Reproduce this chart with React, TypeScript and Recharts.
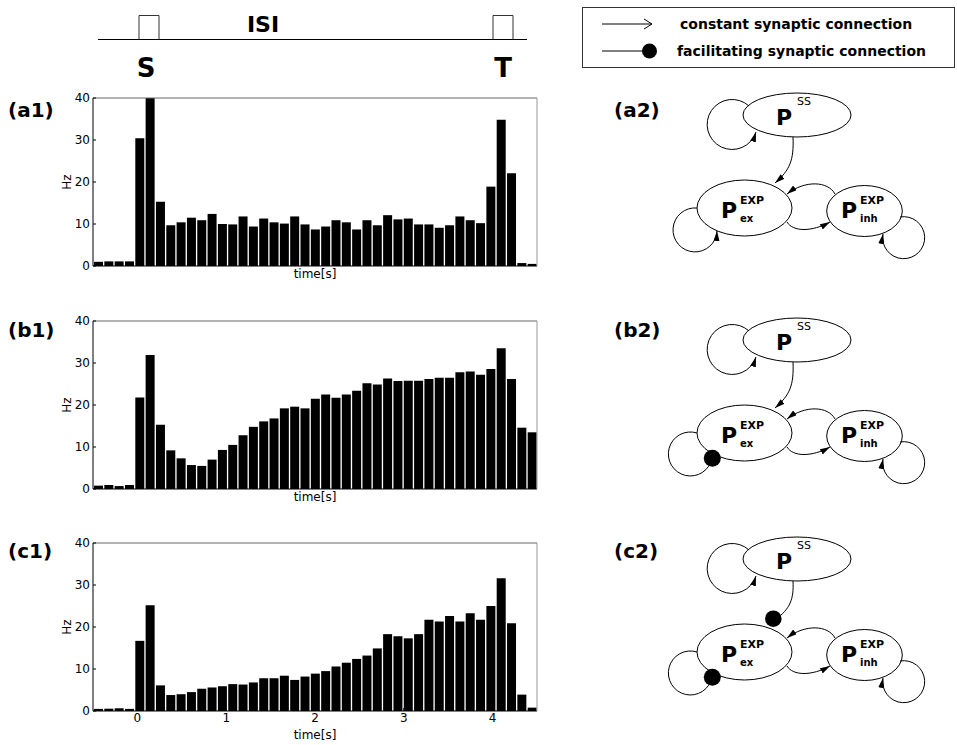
import * as React from 'react';
import { Bar, ComposedChart, Line, XAxis, YAxis } from 'recharts';

const FONT = '"DejaVu Sans", Verdana, sans-serif';

// histogram bins: 43 bins spanning -0.5 .. 4.5 s
const T_START = -0.5;
const T_END = 4.5;
const BIN_COUNT = 43;
const BIN_WIDTH = (T_END - T_START) / BIN_COUNT;

// firing rates (Hz) per bin
const rateA = [
	1.0, 1.1, 1.1, 1.1, 30.4, 40, 15.3, 9.7, 10.4, 11.5, 10.9, 12.4, 10.0, 9.9, 11.8,
	9.4, 11.3, 10.4, 10.1, 11.8, 9.9, 8.7, 9.4, 10.9, 10.4, 8.7, 10.9, 9.7, 12.1, 11.1,
	11.3, 9.9, 9.9, 9.1, 9.7, 11.8, 10.9, 10.2, 18.9, 34.8, 22.1, 0.7, 0.5,
];
const rateB = [
	0.8, 0.95, 0.7, 0.95, 21.8, 31.9, 15.3, 9.2, 7.3, 5.7, 5.5, 7.0, 9.3, 10.5, 12.8,
	14.8, 16.1, 16.8, 19.2, 19.6, 19.2, 21.5, 22.5, 21.7, 22.5, 23.4, 25.2, 24.9, 26.3, 25.7,
	25.8, 25.8, 26.2, 26.5, 26.5, 27.8, 28.0, 27.2, 28.6, 33.5, 26.2, 14.6, 13.5,
];
const rateC = [
	0.5, 0.55, 0.65, 0.5, 16.7, 25.2, 6.1, 3.8, 4.0, 4.5, 5.3, 5.6, 5.9, 6.4, 6.3,
	6.8, 7.8, 7.8, 8.4, 7.4, 8.2, 8.9, 9.5, 10.6, 11.5, 12.4, 13.2, 14.9, 18.3, 17.8,
	17.3, 18.3, 21.7, 21.3, 22.6, 21.3, 23.3, 21.7, 25.0, 31.6, 20.9, 3.9, 0.8,
];

const yTicks = [0, 10, 20, 30, 40];
const rightTicks = [10, 20, 30];
const halfSecondTicks = [0, 0.5, 1, 1.5, 2, 2.5, 3, 3.5, 4];
const secondTicks = [0, 1, 2, 3, 4];

function toRows(rates: number[]) {
	return rates.map((rate, i) => ({ t: T_START + (i + 0.5) * BIN_WIDTH, rate }));
}

type ChartProps = {
	rates: number[];
	top: number;
	ticks: number[];
	labelled: boolean;
};

function RateChart({ rates, top, ticks, labelled }: ChartProps) {
	const tickText = { fill: '#000', fontSize: 12, fontFamily: FONT };
	return (
		<div style={{ position: 'absolute', left: 0, top, width: 560, height: 210 }}>
			<ComposedChart
				width={560}
				height={210}
				data={toRows(rates)}
				margin={{ top: 7, right: 22, bottom: 4, left: 40 }}
			>
				<XAxis
					dataKey="t"
					type="number"
					domain={[T_START, T_END]}
					allowDataOverflow
					ticks={ticks}
					interval={0}
					height={30}
					tickSize={-3}
					tickMargin={5}
					stroke="#000"
					tick={labelled ? tickText : false}
					label={{
						value: 'time[s]',
						position: 'insideTop',
						offset: labelled ? 19 : 3,
						fill: '#000',
						fontSize: 12,
						fontFamily: FONT,
					}}
				/>
				<XAxis
					xAxisId="top"
					dataKey="t"
					orientation="top"
					type="number"
					domain={[T_START, T_END]}
					allowDataOverflow
					ticks={ticks}
					interval={0}
					height={1}
					tickSize={-4}
					tick={false}
					stroke="#666"
				/>
				<YAxis
					domain={[0, 40]}
					allowDataOverflow
					ticks={yTicks}
					interval={0}
					width={53}
					tickSize={-3}
					tickMargin={6}
					stroke="#000"
					tick={tickText}
					label={{
						value: 'Hz',
						angle: -90,
						position: 'center',
						fill: '#000',
						fontSize: 12,
						fontFamily: FONT,
					}}
				/>
				<YAxis
					yAxisId="right"
					orientation="right"
					domain={[0, 40]}
					allowDataOverflow
					ticks={rightTicks}
					interval={0}
					width={1}
					tickSize={-4}
					tick={false}
					stroke="#999"
				/>
				<Bar dataKey="rate" fill="#000" barSize={9} isAnimationActive={false} />
				{/* invisible series so the top / right frame axes are drawn */}
				<Line
					xAxisId="top"
					yAxisId="right"
					dataKey="rate"
					stroke="none"
					dot={false}
					activeDot={false}
					legendType="none"
					isAnimationActive={false}
				/>
			</ComposedChart>
		</div>
	);
}

type NetProps = {
	dy: number;
	facExSelf: boolean;
	facSsToEx: boolean;
};

function Network({ dy, facExSelf, facSsToEx }: NetProps) {
	const line = { fill: 'none', stroke: '#000', strokeWidth: 1 };
	return (
		<g transform={`translate(0, ${dy})`}>
			<ellipse cx={797} cy={115} rx={54} ry={22} fill="#fff" stroke="#000" />
			<ellipse cx={744.5} cy={208} rx={47.5} ry={28} fill="#fff" stroke="#000" />
			<ellipse cx={864.5} cy={211} rx={37.8} ry={25.5} fill="#fff" stroke="#000" />

			{/* self loops */}
			<path d="M 749 106 A 25 25 0 1 0 756 132" {...line} markerEnd="url(#arrowHead)" />
			{facExSelf ? (
				<>
					<path d="M 697 208 A 22 22 0 1 0 712 233" {...line} />
					<circle cx={712.3} cy={233.3} r={8.5} fill="#000" />
				</>
			) : (
				<path d="M 697 208 A 22 22 0 1 0 717 231" {...line} markerEnd="url(#arrowHead)" />
			)}
			<path d="M 900 217 A 21 21 0 1 1 883 234" {...line} markerEnd="url(#arrowHead)" />

			{/* connections */}
			{facSsToEx ? (
				<>
					<path d="M 793 137 C 794 155 790 165 776 175" {...line} />
					<circle cx={773.3} cy={174.7} r={8.3} fill="#000" />
				</>
			) : (
				<path d="M 793 137 C 794 160 790 170 775 183" {...line} markerEnd="url(#arrowHead)" />
			)}
			<path d="M 787 222 C 793 232 812 232 830 222" {...line} markerEnd="url(#arrowHead)" />
			<path d="M 835 194 C 828 181 805 180 787 194" {...line} markerEnd="url(#arrowHead)" />

			{/* labels */}
			<text x={776} y={125} fontSize={22} fontWeight="bold" fontFamily={FONT}>P</text>
			<text x={797} y={105} fontSize={11} fontFamily={FONT}>SS</text>

			<text x={721} y={218} fontSize={22} fontWeight="bold" fontFamily={FONT}>P</text>
			<text x={740} y={204} fontSize={11} fontWeight="bold" fontFamily={FONT}>EXP</text>
			<text x={740} y={222} fontSize={10} fontWeight="bold" fontFamily={FONT}>ex</text>

			<text x={841} y={218} fontSize={22} fontWeight="bold" fontFamily={FONT}>P</text>
			<text x={860} y={204} fontSize={11} fontWeight="bold" fontFamily={FONT}>EXP</text>
			<text x={860} y={222} fontSize={10} fontWeight="bold" fontFamily={FONT}>inh</text>
		</g>
	);
}

const panelLabels = [
	{ left: '(a1)', right: '(a2)', y: 117 },
	{ left: '(b1)', right: '(b2)', y: 337 },
	{ left: '(c1)', right: '(c2)', y: 558 },
];

export default function App() {
	return (
		<div style={{ position: 'absolute', left: 0, top: 0, width: 957, height: 745, background: '#fff', fontFamily: FONT }}>
			<svg width={957} height={745} style={{ position: 'absolute', left: 0, top: 0 }}>
				<defs>
					<marker
						id="arrowHead"
						viewBox="0 0 10 6"
						refX={10}
						refY={3}
						markerWidth={10}
						markerHeight={6}
						markerUnits="userSpaceOnUse"
						orient="auto"
					>
						<path d="M0,0 L10,3 L0,6 z" fill="#000" />
					</marker>
				</defs>

				{/* stimulus protocol */}
				<line x1={98} y1={39.5} x2={527} y2={39.5} stroke="#000" />
				<path d="M 139 39.5 V 15.5 H 159 V 39.5" fill="none" stroke="#333" />
				<path d="M 493 39.5 V 15.5 H 513 V 39.5" fill="none" stroke="#333" />
				<text x={263} y={32} fontSize={22} fontWeight="bold" textAnchor="middle" fontFamily={FONT}>ISI</text>
				<text x={146} y={77} fontSize={26} fontWeight="bold" textAnchor="middle" fontFamily={FONT}>S</text>
				<text x={503} y={77} fontSize={26} fontWeight="bold" textAnchor="middle" fontFamily={FONT}>T</text>

				{/* connection legend */}
				<rect x={582.5} y={7.5} width={372} height={60} fill="#fff" stroke="#333" />
				<line x1={602} y1={24} x2={652} y2={24} stroke="#000" />
				<path d="M 644 19 L 652 24 L 644 29" fill="none" stroke="#000" />
				<text x={680} y={29} fontSize={14} fontWeight="bold" fontFamily={FONT}>constant synaptic connection</text>
				<line x1={602} y1={51} x2={645} y2={51} stroke="#000" />
				<circle cx={649.5} cy={51} r={7.5} fill="#000" />
				<text x={677} y={56} fontSize={14} fontWeight="bold" fontFamily={FONT}>facilitating synaptic connection</text>

				{panelLabels.map((p) => (
					<g key={p.left}>
						<text x={8} y={p.y} fontSize={20} fontWeight="bold" fontFamily={FONT}>{p.left}</text>
						<text x={614} y={p.y} fontSize={20} fontWeight="bold" fontFamily={FONT}>{p.right}</text>
					</g>
				))}

				<Network dy={0} facExSelf={false} facSsToEx={false} />
				<Network dy={225} facExSelf facSsToEx={false} />
				<Network dy={444} facExSelf facSsToEx />
			</svg>

			<RateChart rates={rateA} top={90} ticks={halfSecondTicks} labelled={false} />
			<RateChart rates={rateB} top={313} ticks={halfSecondTicks} labelled={false} />
			<RateChart rates={rateC} top={535} ticks={secondTicks} labelled />
		</div>
	);
}
